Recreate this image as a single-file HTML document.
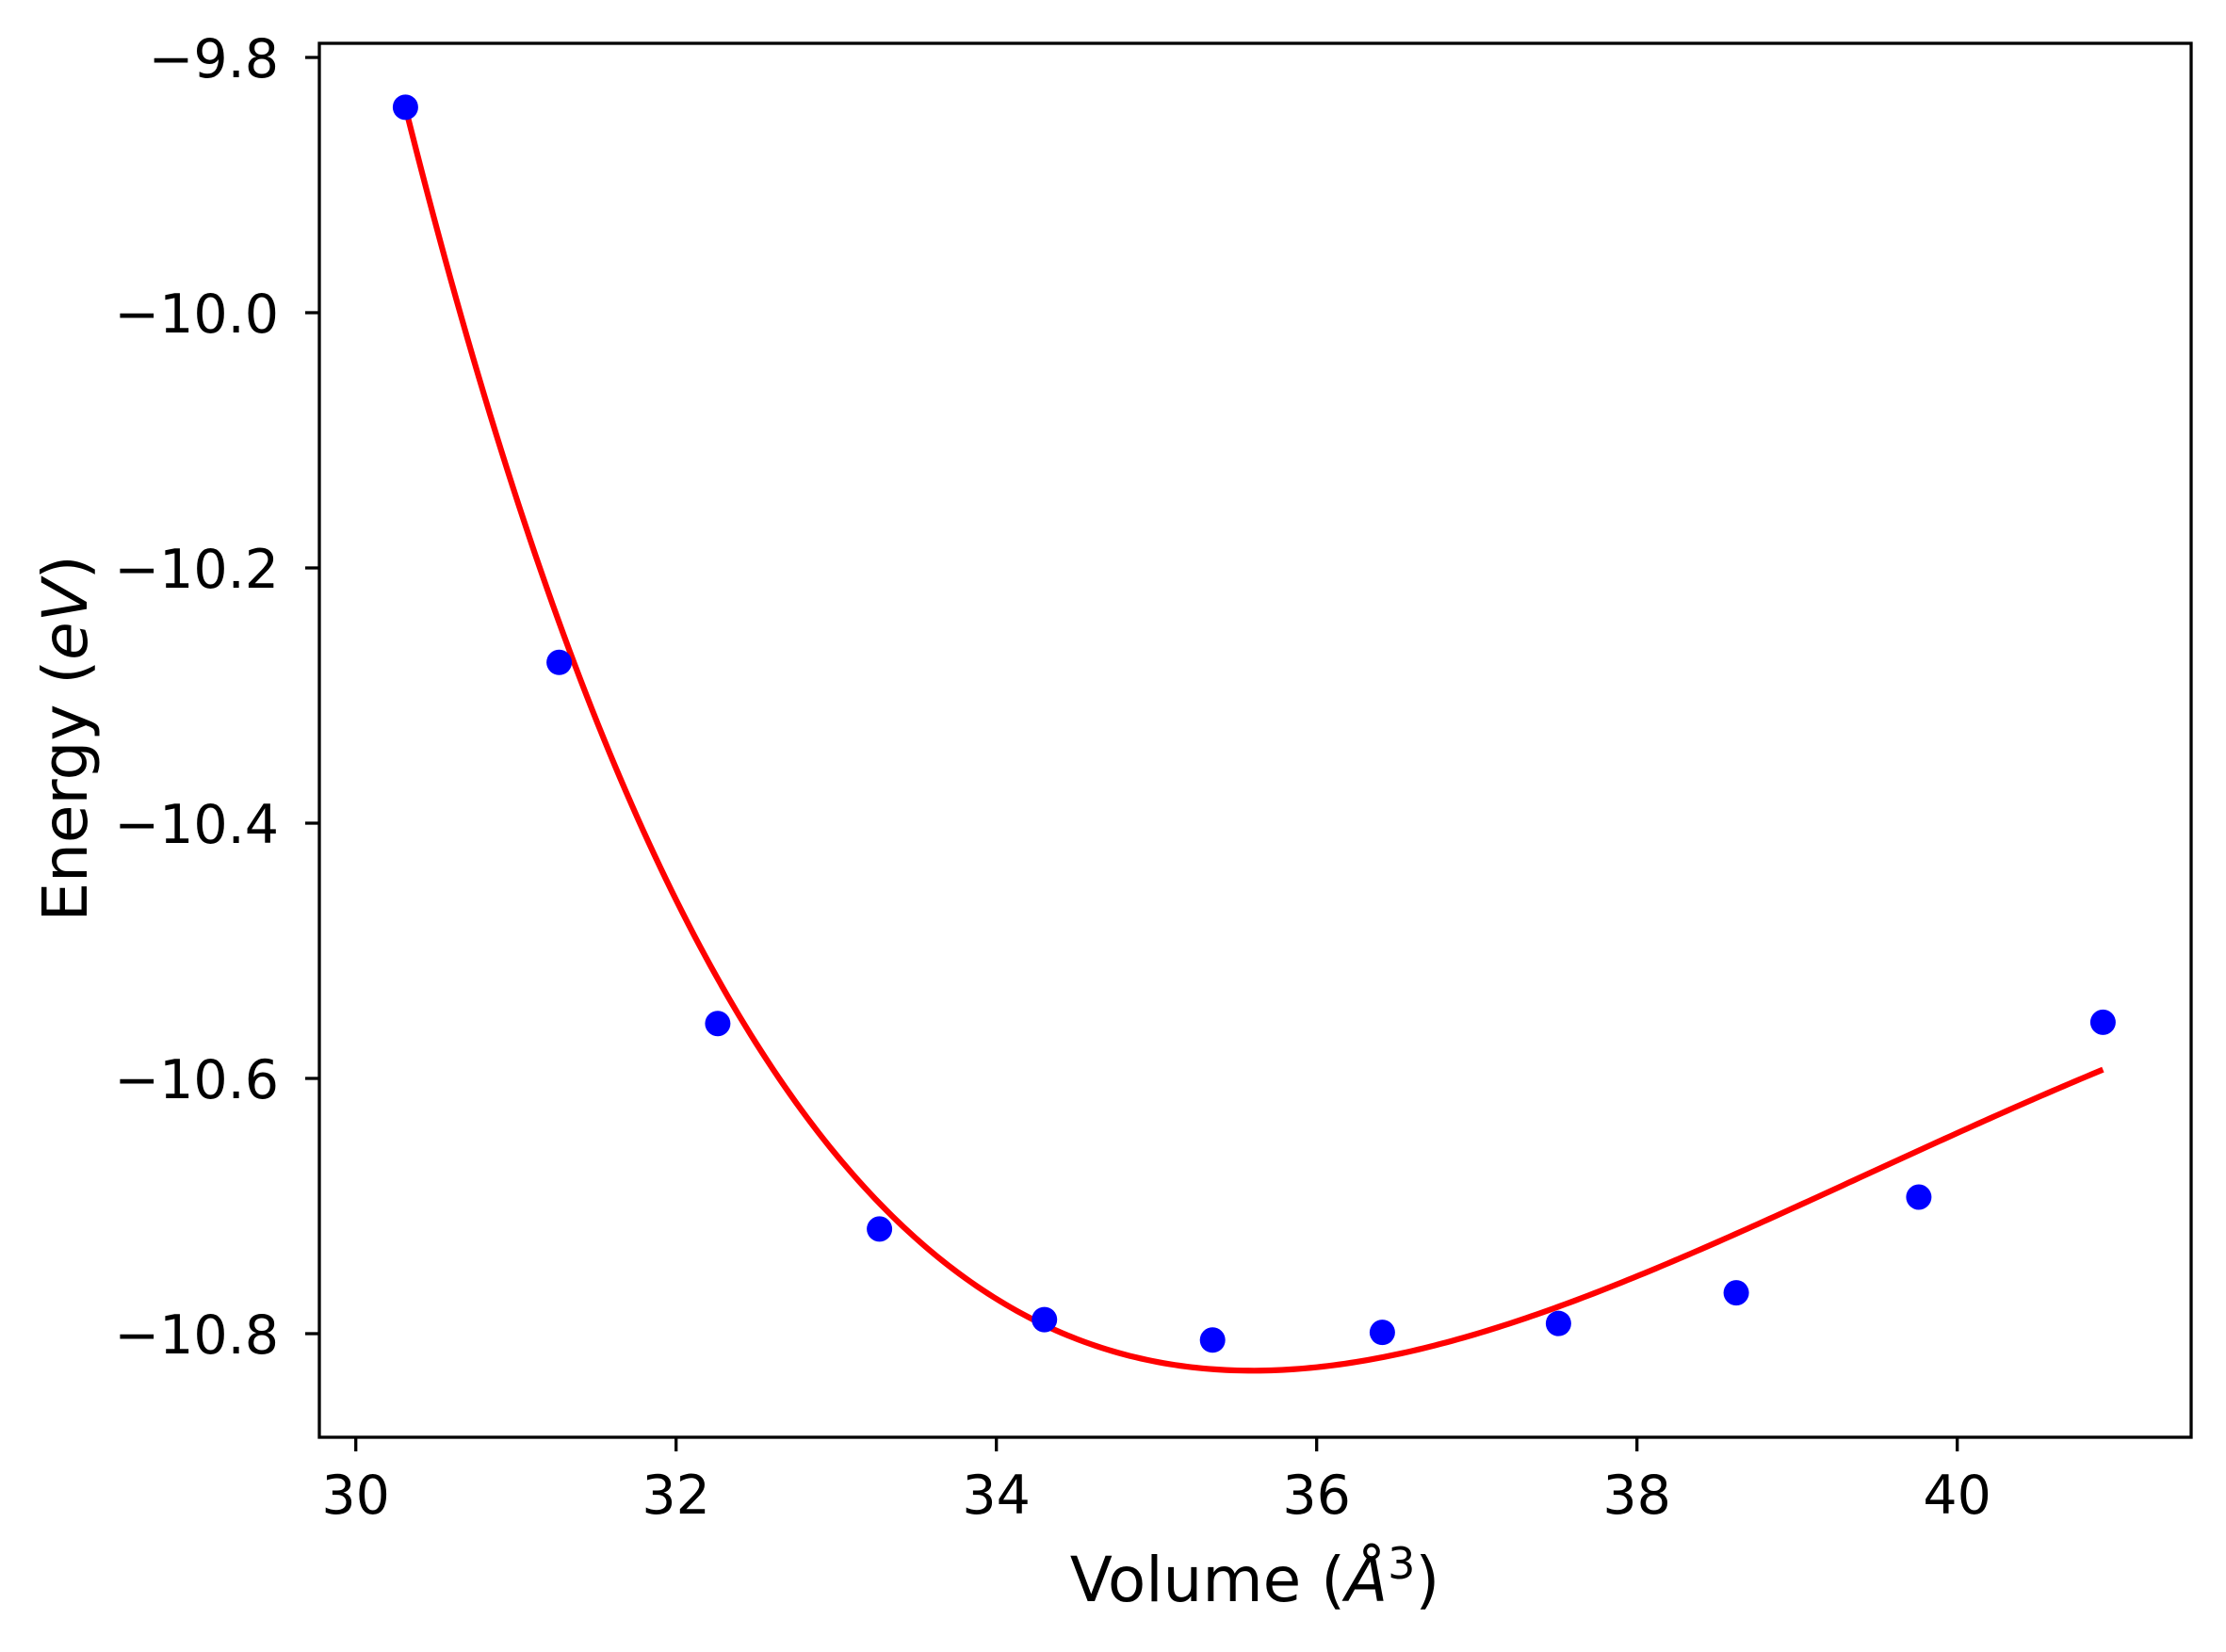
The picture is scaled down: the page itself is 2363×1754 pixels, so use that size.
<!DOCTYPE html>
<html><head><meta charset="utf-8"><style>
html,body{margin:0;padding:0;background:#fff;}
svg{display:block;font-family:"DejaVu Sans","Liberation Sans",sans-serif;}
</style></head><body>
<svg id="chart" width="2363" height="1754" viewBox="0 0 2363 1754" xmlns="http://www.w3.org/2000/svg">
<rect x="0" y="0" width="2363" height="1754" fill="#fff"/>
<g id="plot"></g>
<text x="1332" y="1700" font-size="66" text-anchor="middle">Volume (<tspan font-style="italic">Å</tspan><tspan font-size="46" dy="-24">3</tspan><tspan dy="24">)</tspan></text>
<text transform="translate(92,784) rotate(-90)" font-size="66" text-anchor="middle">Energy (<tspan font-style="italic">eV</tspan>)</text>
</svg>
<script>
const volumes = [30.31, 31.27, 32.26, 33.27, 34.30, 35.35, 36.41, 37.51, 38.62, 39.76, 40.91];
const energies = [-9.839, -10.274, -10.557, -10.718, -10.789, -10.805, -10.799, -10.792, -10.768, -10.693, -10.556];
const fitParams = [-10.829, 35.6, 1.268, 13.2]; // E0, V0, B0, B0'
const xTicks = [30, 32, 34, 36, 38, 40];
const yTicks = [-9.8, -10.0, -10.2, -10.4, -10.6, -10.8];

const NS = "http://www.w3.org/2000/svg";
const L = 339, R = 2326, T = 46, B = 1526;
function xs(v){ return 377.7 + (v - 30) * 170; }
function ys(e){ return 61 + (-9.8 - e) * 1355; }
function bm(v){
  const [E0, V0, B0, Bp] = fitParams;
  const x = Math.pow(V0 / v, 2 / 3);
  return E0 + 9 * V0 * B0 / 16 * (Math.pow(x - 1, 3) * Bp + Math.pow(x - 1, 2) * (6 - 4 * x));
}
const g = document.getElementById('plot');
function mk(tag, attrs){ const e = document.createElementNS(NS, tag); for (const k in attrs) e.setAttribute(k, attrs[k]); g.appendChild(e); return e; }

// fit curve
const vmin = Math.min(...volumes), vmax = Math.max(...volumes);
let d = "";
for (let i = 0; i <= 300; i++) {
  const v = vmin + (vmax - vmin) * i / 300;
  d += (i ? "L" : "M") + xs(v).toFixed(2) + "," + ys(bm(v)).toFixed(2);
}
const curve = mk('path', {d: d, fill: 'none', stroke: '#ff0000', 'stroke-width': 6.2});



// points
volumes.forEach((v, i) => {
  const c = mk('circle', {cx: xs(v), cy: ys(energies[i]), r: 13.5, fill: '#0000ff'});
  
  
});

// spines
const frame = mk('rect', {x: L, y: T, width: R - L, height: B - T, fill: 'none', stroke: '#000', 'stroke-width': 3.3});



// x ticks
xTicks.forEach(t => {
  const x = xs(t);
  const tk = mk('line', {x1: x, x2: x, y1: B, y2: B + 15, stroke: '#000', 'stroke-width': 3.3});
  
  
  const lb = mk('text', {x: x, y: 1607, 'font-size': 57, 'text-anchor': 'middle'});
  lb.textContent = String(t);
  
  
});
// y ticks
yTicks.forEach(t => {
  const y = ys(t);
  const tk = mk('line', {x1: L - 15, x2: L, y1: y, y2: y, stroke: '#000', 'stroke-width': 3.3});
  
  
  const lb = mk('text', {x: 296, y: y + 21, 'font-size': 57, 'text-anchor': 'end'});
  lb.textContent = '\u2212' + Math.abs(t).toFixed(1);
  
  
});
</script>
</body></html>
